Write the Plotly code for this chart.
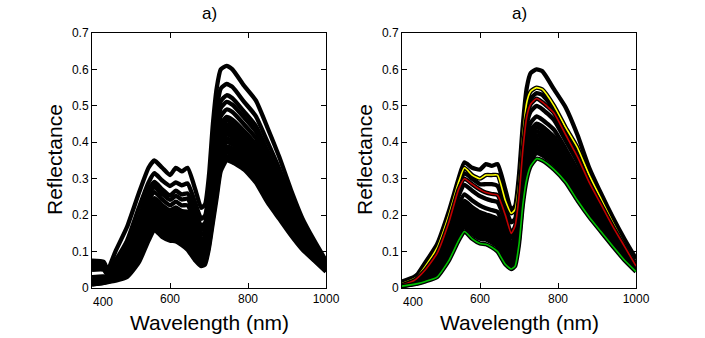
import plotly.graph_objects as go

# ---------------- data ----------------
wavelength = [400, 430, 440, 460, 490, 520, 545, 560, 580, 600, 615, 630, 645, 665, 680,
              690, 700, 710, 720, 730, 745, 760, 790, 820, 850, 880, 910, 940, 970, 1000]

x_ticks = [400, 600, 800, 1000]
x_tick_text = ["", "600", "800", "1000"]
first_x_tick_label = "400"
y_ticks = [0, 0.1, 0.2, 0.3, 0.4, 0.5, 0.6, 0.7]
y_tick_text = ["0", "0.1", "0.2", "0.3", "0.4", "0.5", "0.6", "0.7"]

panel_titles = ["a)", "a)"]
x_label = "Wavelength (nm)"
y_label = "Reflectance"

# Left panel: raw spectra (all black)
left_spectra = [
    [.075, .072, .050, .100, .168, .260, .330, .350, .330, .310, .330, .320, .330, .270, .220,
     .230, .310, .450, .550, .600, .610, .600, .555, .515, .440, .360, .270, .190, .130, .075],
    [.063, .061, .044, .075, .130, .220, .290, .315, .295, .280, .290, .282, .287, .233, .190,
     .199, .272, .399, .493, .547, .560, .552, .511, .472, .401, .328, .246, .174, .120, .070],
    [.055, .054, .039, .060, .115, .190, .268, .291, .271, .254, .267, .257, .260, .210, .170,
     .179, .248, .366, .457, .513, .529, .521, .484, .445, .376, .307, .231, .164, .113, .066],
    [.020, .025, .030, .055, .105, .180, .254, .278, .258, .242, .253, .243, .245, .196, .159,
     .167, .234, .347, .436, .494, .511, .503, .468, .430, .362, .295, .223, .158, .109, .064],
    [.020, .024, .028, .050, .095, .165, .238, .263, .243, .227, .237, .227, .227, .180, .146,
     .154, .218, .326, .412, .471, .490, .483, .449, .412, .346, .282, .213, .151, .105, .061],
    [.070, .068, .045, .050, .088, .150, .222, .247, .227, .213, .221, .211, .209, .165, .134,
     .141, .202, .304, .388, .449, .470, .462, .431, .394, .329, .268, .203, .144, .100, .059],
    [.016, .021, .025, .040, .082, .143, .214, .240, .220, .206, .213, .203, .200, .157, .128,
     .135, .194, .294, .376, .438, .460, .452, .422, .385, .321, .262, .198, .141, .098, .058],
    [.015, .020, .024, .035, .075, .135, .206, .232, .212, .198, .205, .195, .191, .149, .121,
     .128, .186, .283, .364, .426, .449, .442, .412, .376, .313, .255, .193, .137, .096, .056],
    [.013, .018, .022, .032, .072, .132, .199, .226, .206, .192, .198, .188, .183, .142, .116,
     .122, .179, .274, .354, .417, .440, .433, .404, .368, .306, .249, .189, .134, .094, .055],
    [.060, .060, .040, .040, .070, .129, .192, .219, .199, .186, .191, .181, .175, .135, .110,
     .116, .172, .264, .343, .407, .431, .424, .396, .360, .299, .243, .184, .131, .092, .054],
    [.012, .016, .020, .030, .062, .122, .184, .212, .192, .179, .183, .173, .166, .128, .104,
     .110, .164, .253, .331, .396, .421, .414, .387, .351, .291, .236, .179, .128, .090, .053],
    [.012, .017, .020, .028, .055, .114, .176, .204, .184, .171, .174, .164, .157, .120, .097,
     .103, .156, .242, .319, .384, .410, .404, .378, .342, .282, .229, .174, .125, .088, .052],
    [.012, .016, .019, .026, .050, .107, .168, .197, .177, .164, .166, .156, .148, .112, .091,
     .097, .148, .232, .307, .373, .400, .394, .369, .333, .274, .223, .169, .122, .086, .051],
    [.050, .050, .035, .030, .045, .099, .160, .189, .169, .157, .158, .148, .139, .104, .084,
     .090, .140, .221, .295, .362, .389, .383, .360, .324, .266, .216, .164, .118, .083, .050],
    [.030, .032, .026, .027, .040, .092, .153, .182, .162, .150, .151, .141, .131, .098, .079,
     .084, .133, .212, .285, .352, .380, .374, .352, .316, .259, .210, .160, .115, .081, .049],
    [.011, .015, .018, .024, .036, .085, .146, .175, .155, .144, .144, .134, .123, .091, .073,
     .078, .126, .202, .274, .342, .371, .365, .343, .308, .251, .204, .155, .112, .079, .047],
    [.010, .014, .017, .022, .033, .078, .138, .168, .148, .137, .136, .126, .114, .083, .067,
     .072, .118, .191, .262, .331, .361, .355, .334, .299, .243, .197, .150, .109, .077, .046],
    [.010, .014, .016, .020, .030, .070, .130, .160, .140, .130, .128, .118, .105, .075, .060,
     .065, .110, .180, .250, .320, .350, .345, .325, .290, .235, .190, .145, .105, .075, .045],
]

# Right panel: smoothed spectra (black) + highlighted spectra
right_spectra = [
    [.018, .030, .038, .070, .120, .210, .300, .345, .330, .325, .340, .335, .340, .270, .215,
     .225, .310, .450, .550, .590, .600, .595, .545, .495, .420, .330, .260, .195, .135, .080],
    [.010, .022, .030, .055, .100, .190, .280, .315, .300, .285, .285, .285, .280, .220, .180,
     .190, .270, .400, .490, .520, .535, .530, .490, .430, .370, .300, .235, .175, .118, .062],
    [.008, .019, .026, .046, .087, .167, .253, .283, .267, .252, .245, .240, .236, .184, .138,
     .157, .234, .362, .450, .485, .500, .491, .461, .404, .346, .279, .221, .163, .110, .058],
    [.007, .017, .023, .040, .076, .149, .228, .257, .240, .226, .219, .214, .209, .160, .121,
     .137, .211, .335, .419, .454, .471, .462, .434, .381, .324, .262, .208, .154, .104, .056],
    [.007, .016, .021, .037, .068, .136, .211, .239, .222, .208, .202, .197, .190, .143, .109,
     .124, .195, .317, .399, .434, .451, .443, .415, .365, .310, .250, .199, .147, .099, .054],
    [.007, .016, .020, .035, .064, .129, .202, .230, .213, .199, .193, .188, .180, .135, .103,
     .117, .187, .308, .388, .423, .440, .433, .405, .357, .302, .244, .194, .144, .097, .053],
    [.006, .015, .019, .032, .059, .122, .193, .220, .203, .189, .184, .178, .170, .126, .096,
     .110, .179, .298, .377, .412, .429, .422, .395, .349, .294, .238, .189, .140, .094, .052],
    [.006, .014, .018, .031, .055, .116, .185, .212, .194, .180, .176, .169, .161, .118, .090,
     .103, .171, .289, .367, .402, .419, .413, .386, .341, .287, .232, .185, .137, .092, .051],
    [.006, .013, .017, .029, .051, .110, .176, .203, .185, .171, .167, .160, .151, .110, .084,
     .096, .163, .280, .356, .391, .409, .403, .376, .333, .280, .226, .180, .133, .090, .050],
    [.006, .013, .016, .027, .048, .104, .168, .194, .176, .162, .159, .152, .142, .102, .079,
     .090, .155, .271, .346, .381, .400, .394, .367, .325, .273, .221, .176, .130, .088, .049],
    [.006, .012, .015, .025, .044, .097, .159, .185, .167, .153, .150, .143, .133, .093, .073,
     .083, .147, .262, .336, .371, .390, .384, .358, .317, .265, .215, .171, .127, .085, .048],
    [.006, .012, .014, .023, .040, .090, .151, .177, .158, .144, .142, .134, .124, .085, .067,
     .077, .140, .253, .326, .361, .380, .374, .349, .310, .258, .210, .167, .124, .083, .047],
    [.005, .011, .013, .021, .036, .084, .143, .168, .149, .135, .133, .125, .114, .077, .061,
     .070, .132, .244, .315, .350, .370, .364, .339, .302, .251, .204, .162, .120, .080, .046],
]

right_yellow = [.012, .025, .032, .060, .110, .200, .290, .330, .310, .300, .310, .310, .310, .240, .205,
                .215, .290, .420, .510, .540, .550, .545, .500, .440, .385, .310, .245, .180, .120, .065]
right_red = [.008, .020, .028, .050, .095, .180, .270, .300, .285, .270, .262, .258, .255, .200, .150,
             .170, .250, .380, .470, .505, .520, .510, .480, .420, .360, .290, .230, .170, .115, .060]
right_green = [.005, .010, .012, .018, .030, .075, .130, .155, .135, .122, .120, .112, .100, .065, .052,
               .060, .120, .230, .300, .335, .355, .350, .325, .290, .240, .195, .155, .115, .077, .045]
highlight_colors = ["#ffff00", "#c00000", "#00c000"]

# ---------------- figure ----------------
W, H = 705, 338
FONT = "Liberation Sans, Arial, Helvetica, sans-serif"
BLACK_W = 4.3
SMOOTH = dict(shape="spline", smoothing=0.5)

fig = go.Figure()

for s in left_spectra:
    fig.add_trace(go.Scatter(x=wavelength, y=s, mode="lines", xaxis="x", yaxis="y",
                             line=dict(color="black", width=BLACK_W, **SMOOTH), showlegend=False,
                             hoverinfo="skip"))

for s in right_spectra:
    fig.add_trace(go.Scatter(x=wavelength, y=s, mode="lines", xaxis="x2", yaxis="y2",
                             line=dict(color="black", width=BLACK_W, **SMOOTH), showlegend=False,
                             hoverinfo="skip"))

for s, c in zip([right_yellow, right_red, right_green], highlight_colors):
    fig.add_trace(go.Scatter(x=wavelength, y=s, mode="lines", xaxis="x2", yaxis="y2",
                             line=dict(color="black", width=BLACK_W, **SMOOTH), showlegend=False,
                             hoverinfo="skip"))
    fig.add_trace(go.Scatter(x=wavelength, y=s, mode="lines", xaxis="x2", yaxis="y2",
                             line=dict(color=c, width=1.6, **SMOOTH), showlegend=False,
                             hoverinfo="skip"))

def px_x(p):
    return p / W

def px_y(p):
    return 1 - p / H

left_dom = [px_x(92), px_x(326)]
right_dom = [px_x(402), px_x(636)]
y_dom = [px_y(288), px_y(33)]

xaxis_common = dict(range=[400, 1000], tickvals=x_ticks, ticktext=x_tick_text,
                    ticks="inside", ticklen=5, tickcolor="black", tickwidth=1,
                    showline=True, linecolor="black", linewidth=1, mirror="allticks",
                    showgrid=False, zeroline=False, automargin=False,
                    tickfont=dict(family=FONT, size=12, color="black"))
yaxis_common = dict(range=[0, 0.7], tickvals=y_ticks, ticktext=y_tick_text,
                    ticks="inside", ticklen=5, tickcolor="black", tickwidth=1,
                    showline=True, linecolor="black", linewidth=1, mirror="allticks",
                    showgrid=False, zeroline=False, domain=y_dom, automargin=False,
                    tickfont=dict(family=FONT, size=12, color="black"))

fig.update_layout(
    width=W, height=H, margin=dict(l=0, r=0, t=0, b=0, autoexpand=False),
    paper_bgcolor="white", plot_bgcolor="white",
    xaxis=dict(xaxis_common, domain=left_dom, anchor="y"),
    yaxis=dict(yaxis_common, anchor="x"),
    xaxis2=dict(xaxis_common, domain=right_dom, anchor="y2"),
    yaxis2=dict(yaxis_common, anchor="x2"),
)

centers = [(left_dom[0] + left_dom[1]) / 2, (right_dom[0] + right_dom[1]) / 2]
ylabel_x = [px_x(54), px_x(364)]
xrefs = ["x", "x2"]
for i in range(2):
    fig.add_annotation(text=first_x_tick_label, x=x_ticks[0], y=px_y(302), xref=xrefs[i], yref="paper",
                       showarrow=False, xanchor="left", yanchor="middle", xshift=-1,
                       font=dict(family=FONT, size=12, color="black"))
    fig.add_annotation(text=panel_titles[i], x=centers[i], y=px_y(14), xref="paper", yref="paper",
                       showarrow=False, xanchor="center", yanchor="middle",
                       font=dict(family=FONT, size=17, color="black"))
    fig.add_annotation(text=x_label, x=centers[i], y=px_y(322), xref="paper", yref="paper",
                       showarrow=False, xanchor="center", yanchor="middle",
                       font=dict(family=FONT, size=21, color="black"))
    fig.add_annotation(text=y_label, x=ylabel_x[i], y=px_y(160), xref="paper", yref="paper",
                       showarrow=False, xanchor="center", yanchor="middle", textangle=-90,
                       font=dict(family=FONT, size=21, color="black"))

fig.write_html("out.html")
